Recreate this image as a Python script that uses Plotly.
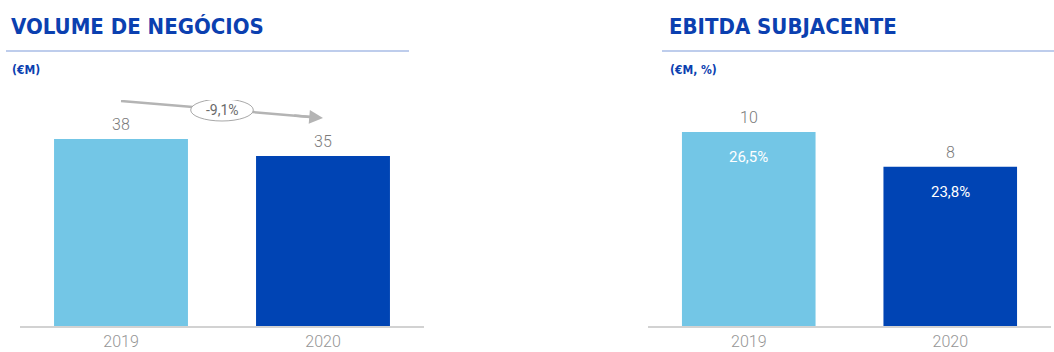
import plotly.graph_objects as go

years = ["2019", "2020"]
volume = [38.4, 34.9]
volume_labels = ["38", "35"]
ebitda = [10.1, 8.3]
ebitda_labels = ["10", "8"]
margin_labels = ["26,5%", "23,8%"]
change_label = "-9,1%"
bar_colors = ["#73C6E6", "#0044B4"]

W, H = 1054, 352
TITLE_BLUE = "#0B40B0"
GRAY = "#7A7A7A"
ARROW = "#B4B4B4"
PX = 4.87  # px per unit on left axis

fig = go.Figure()
fig.add_trace(go.Bar(x=years, y=volume, marker_color=bar_colors, marker_line_width=0,
                     xaxis="x", yaxis="y", hoverinfo="skip"))
fig.add_trace(go.Bar(x=years, y=ebitda, marker_color=bar_colors, marker_line_width=0,
                     xaxis="x2", yaxis="y2", hoverinfo="skip"))

ydom = [(H - 326) / H, (H - 100) / H]
axis_common = dict(type="category", range=[-0.5, 1.5], autorange=False, automargin=False,
                   showgrid=False, zeroline=False, showline=True, linecolor="#D2D2D2",
                   linewidth=2, ticks="", tickfont=dict(family="Roboto", size=16, color="#959595", weight=300),
                   fixedrange=True)
fig.update_layout(
    width=W, height=H, margin=dict(l=0, r=0, t=0, b=0, autoexpand=False),
    paper_bgcolor="white", plot_bgcolor="white", showlegend=False, bargap=0.337,
    xaxis=dict(domain=[20 / W, 424 / W], anchor="y", **axis_common),
    xaxis2=dict(domain=[648 / W, 1051 / W], anchor="y2", **axis_common),
    yaxis=dict(domain=ydom, range=[0, 226 / PX], autorange=False, visible=False, anchor="x"),
    yaxis2=dict(domain=ydom, range=[0, 226 / 19.2], autorange=False, visible=False, anchor="x2"),
)

ann = []
title_font = dict(family="DejaVu Sans Condensed", size=22, color=TITLE_BLUE, weight="bold")
sub_font = dict(family="DejaVu Sans Condensed", size=12, color=TITLE_BLUE, weight="bold")
ann.append(dict(text="VOLUME DE NEGÓCIOS", x=9 / W, y=1 - 27 / H, xref="paper", yref="paper",
                xanchor="left", yanchor="middle", showarrow=False, font=title_font))
ann.append(dict(text="EBITDA SUBJACENTE", x=667 / W, y=1 - 27 / H, xref="paper", yref="paper",
                xanchor="left", yanchor="middle", showarrow=False, font=title_font))
ann.append(dict(text="(€M)", x=10 / W, y=1 - 70 / H, xref="paper", yref="paper",
                xanchor="left", yanchor="middle", showarrow=False, font=sub_font))
ann.append(dict(text="(€M, %)", x=668 / W, y=1 - 70 / H, xref="paper", yref="paper",
                xanchor="left", yanchor="middle", showarrow=False, font=sub_font))

val_font = dict(family="Roboto", size=16, color=GRAY, weight=300)
for xa, ya, vals, labs in [("x", "y", volume, volume_labels), ("x2", "y2", ebitda, ebitda_labels)]:
    for i, (v, lab) in enumerate(zip(vals, labs)):
        ann.append(dict(text=lab, x=i, y=v, xref=xa, yref=ya, yanchor="bottom", yshift=3,
                        showarrow=False, font=val_font))
for i, (v, lab) in enumerate(zip(ebitda, margin_labels)):
    ann.append(dict(text=lab, x=i, y=v, xref="x2", yref="y2", yanchor="middle", yshift=-25,
                    showarrow=False, font=dict(family="Roboto", size=15, color="white")))

# change arrow: shaft as a shape, ellipse over it, head as a short annotation arrow
y_start = (326 - 101) / PX
y_end = (326 - 118) / PX
x_end = 1.0
fig.add_shape(type="line", xref="x", yref="y", x0=0.0, y0=y_start, x1=0.95,
              y1=y_start + (y_end - y_start) * 0.95, line=dict(color=ARROW, width=2.5), layer="above")
fig.add_shape(type="circle", xref="x", yref="y", x0=0.5 - 0.155, x1=0.5 + 0.155,
              y0=(326 - 121) / PX, y1=(326 - 99) / PX,
              line=dict(color="#A8A8A8", width=1), fillcolor="white", layer="above")
ann.append(dict(text="", x=x_end, y=y_end, ax=0.85, ay=y_start + (y_end - y_start) * 0.85,
                xref="x", yref="y", axref="x", ayref="y", showarrow=True,
                arrowhead=2, arrowsize=1.1, arrowwidth=2.5, arrowcolor=ARROW))
ann.append(dict(text=change_label, x=0.5, y=(326 - 110) / PX, xref="x", yref="y",
                showarrow=False, font=dict(family="Roboto", size=14, color="#6A6A6A")))

fig.update_layout(annotations=ann)

# title underline rules
fig.add_shape(type="line", xref="paper", yref="paper", x0=6 / W, x1=409 / W,
              y0=1 - 51 / H, y1=1 - 51 / H, line=dict(color="#A9BDE6", width=1.5))
fig.add_shape(type="line", xref="paper", yref="paper", x0=662 / W, x1=1,
              y0=1 - 51 / H, y1=1 - 51 / H, line=dict(color="#A9BDE6", width=1.5))

fig.write_html("out.html", config={"displayModeBar": False},
               post_script="document.body.style.margin='0';")
